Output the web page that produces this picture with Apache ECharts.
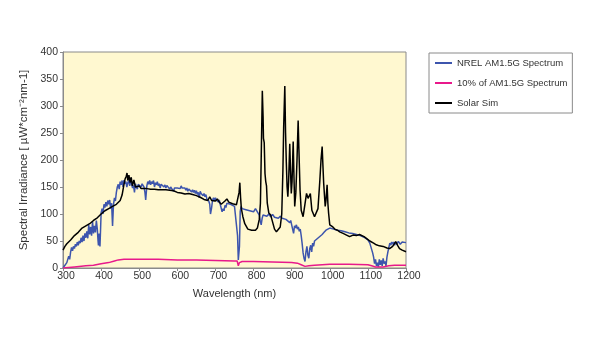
<!DOCTYPE html>
<html>
<head>
<meta charset="utf-8">
<script src="https://cdn.jsdelivr.net/npm/echarts@6/dist/echarts.min.js"></script>
<style>
html,body{margin:0;padding:0;background:#fff;}
#c{width:600px;height:345px;}
</style>
</head>
<body>
<div id="c"></div>
<script>
// NREL AM1.5G spectrum (µW·cm⁻²·nm⁻¹)
const amWl = [300,305,310,315,317.5,320,322.5,325,327.5,330,332.5,335,337.5,340,342.5,345,347.5,350,352.5,355,357.5,360,362.5,365,367.5,370,372.5,375,377.5,380,382.5,385,387.5,390,392,393,395,397,398.5,400,402.5,405,407.5,410,412.5,415,417.5,420,422.5,425,427.5,430,432.5,435,437.5,440,442.5,445,447.5,450,452.5,455,457.5,460,462.5,465,467.5,470,472.5,475,477.5,480,482.5,485,487.5,490,492.5,495,497.5,500,502.5,505,507.5,510,512.5,515,517,520,522.5,525,527.5,530,532.5,535,537.5,540,542.5,545,547.5,550,552.5,555,557.5,560,562.5,565,567.5,570,572.5,575,577.5,580,582.5,585,587.5,590,592.5,595,597.5,600,602.5,605,607.5,610,612.5,615,617.5,620,622.5,625,627.5,630,632.5,635,637.5,640,642.5,645,647.5,650,652.5,655,657.5,660,662.5,665,667.5,670,672.5,675,677.5,680,682.5,685,687,690,692.5,695,697.5,700,702.5,705,707.5,710,712.5,715,717.5,720,722.5,725,727.5,730,735,740,745,750,755,758,760,763,765,767.5,770,775,780,785,790,795,800,805,810,815,817.5,820,822.5,825,830,835,840,845,850,855,860,865,870,875,880,885,890,895,897.5,900,902.5,905,907.5,910,912.5,915,917.5,920,922.5,925,927.5,930,932.5,935,937.5,940,942.5,945,947.5,950,952.5,955,957.5,960,965,970,975,980,985,990,995,1000,1005,1010,1015,1020,1025,1030,1035,1040,1045,1050,1055,1060,1065,1070,1075,1080,1085,1090,1095,1100,1105,1107.5,1110,1112.5,1115,1117.5,1120,1122.5,1125,1127.5,1130,1132.5,1135,1137.5,1140,1142.5,1145,1147.5,1150,1152.5,1155,1157.5,1160,1162.5,1165,1167.5,1170,1172.5,1175,1180,1185,1190,1195,1200];
const amVal = [0,3,10,22,16,30,38,32,40,36,44,40,48,42,50,46,56,48,60,50,64,56,68,55,80,62,76,60,86,64,78,66,88,72,50,42,64,40,70,102,110,100,118,112,122,114,125,118,126,110,120,78,118,130,124,140,150,155,146,160,154,162,150,163,156,160,150,158,162,152,160,156,148,153,140,156,150,146,155,152,158,150,156,158,150,140,126,152,160,155,162,154,160,156,162,150,158,154,160,152,156,148,155,152,157,150,154,148,153,150,155,146,150,148,152,142,148,146,150,148,146,150,147,152,148,150,146,148,144,148,142,146,143,147,141,145,140,144,138,143,136,140,130,142,138,140,134,138,132,136,128,130,124,118,100,112,126,130,124,130,126,128,122,126,118,116,104,110,106,116,112,120,118,118,120,114,116,60,15,40,105,114,110,113,108,111,106,109,104,110,104,98,88,80,92,98,100,96,100,95,99,94,97,92,96,92,95,90,92,84,88,80,72,64,78,74,80,72,76,68,72,60,45,28,18,12,30,40,24,18,36,42,30,46,40,50,52,56,58,62,66,70,72,74,73,72,71,70,70,69,68,67,66,65,64,64,63,62,61,60,59,57,55,52,46,40,42,28,20,8,16,4,10,2,16,6,14,4,18,8,12,4,20,30,38,46,42,48,44,48,42,48,44,49,44,48,45,47];

// 10% of AM1.5G
const pctWl = [300,330,360,380,400,420,435,445,460,500,550,600,650,700,750,757,760,763,770,800,850,900,915,925,935,945,960,980,1000,1050,1100,1110,1120,1140,1155,1170,1200];
const pctVal = [0,2,4,5,8,10,13,15,16,16,16,15,15,14,13,13,4,10,12,12,11,10,9,6,3,4,5,6,7,7,6,4,2,2,4,5,5];

// Solar simulator
const simWl = [300,305,310,320,330,340,350,360,370,380,390,400,410,420,430,440,450,455,460,463,466,468,470,473,476,479,482,486,490,495,500,505,510,520,530,540,550,560,570,580,590,600,610,620,630,640,650,660,670,675,680,685,690,695,700,705,710,715,720,725,730,735,740,745,750,755,760,762,764,766,768,772,777,785,795,805,810,815,818,820,823,825,826,828,830,832,834,836,840,845,850,855,860,865,870,874,877,879,882,884,886,888,890,892,895,897,899,901,904,906,908,911,914,917,919,922,925,930,934,939,943,949,953,960,969,974,977,980,982,984,988,990,993,995,997,1000,1004,1008,1013,1020,1026,1035,1044,1052,1061,1070,1078,1083,1090,1096,1105,1115,1122,1130,1140,1150,1157,1165,1173,1178,1183,1190,1200];
const simVal = [33,40,45,52,60,66,74,78,82,88,93,100,106,110,114,118,125,135,155,165,170,176,162,172,158,168,152,163,150,148,152,147,148,147,146,146,145,145,145,144,143,140,139,137,138,136,134,131,127,124,125,132,125,122,124,128,122,118,120,124,128,122,120,119,118,117,118,140,158,130,110,95,82,72,70,70,74,90,120,200,328,280,240,232,175,160,152,120,102,98,85,72,67,68,76,100,180,260,337,250,195,150,132,160,230,180,138,160,234,170,114,140,200,273,220,144,107,95,114,138,129,138,107,95,110,163,200,225,190,157,114,125,154,120,101,80,83,76,72,70,67,64,61,58,61,60,62,64,58,55,50,46,43,41,40,37,36,40,49,42,36,33,30];

const seriesNames = ['NREL AM1.5G Spectrum', '10% of AM1.5G Spectrum', 'Solar Sim'];
const xTicks = {min: 300, max: 1200, step: 100};
const yTicks = {min: 0, max: 400, step: 50};

const pair = (w, v) => w.map((x, i) => [x, v[i]]);
const font = '"Liberation Sans", Arial, Helvetica, sans-serif';

const chart = echarts.init(document.getElementById('c'), null, {renderer: 'canvas'});
chart.setOption({
  animation: false,
  backgroundColor: '#ffffff',
  textStyle: {fontFamily: font},
  grid: {
    left: 63, right: 194, top: 52, bottom: 77,
    show: true, backgroundColor: '#fff8d0', borderColor: '#8a8a8a', borderWidth: 1
  },
  legend: {
    orient: 'vertical',
    left: 429, top: 53,
    padding: [5, 5, 5, 6],
    itemGap: 10,
    icon: 'rect',
    itemWidth: 17, itemHeight: 2,
    borderColor: '#8a8a8a', borderWidth: 1,
    backgroundColor: '#ffffff',
    textStyle: {fontSize: 9.5, color: '#333', fontFamily: font, lineHeight: 10},
    data: seriesNames
  },
  xAxis: {
    type: 'value',
    min: xTicks.min, max: xTicks.max, interval: xTicks.step,
    name: 'Wavelength (nm)', nameLocation: 'middle', nameGap: 20,
    nameTextStyle: {fontSize: 11, color: '#333', fontFamily: font},
    axisLine: {lineStyle: {color: '#8a8a8a', width: 1}},
    axisTick: {show: true, length: 3, lineStyle: {color: '#8a8a8a'}},
    axisLabel: {fontSize: 10.5, color: '#333', margin: 3, fontFamily: font, formatter: v => String(v), padding: [0, 0, 0, 6]},
    splitLine: {show: false}
  },
  yAxis: {
    type: 'value',
    min: yTicks.min, max: yTicks.max, interval: yTicks.step,
    name: 'Spectral Irradiance [ µW*cm⁻²nm-1]', nameLocation: 'middle', nameGap: 23, nameRotate: 90,
    nameTextStyle: {fontSize: 11.5, color: '#333', fontFamily: font},
    axisLine: {show: true, lineStyle: {color: '#8a8a8a', width: 1}},
    axisTick: {show: true, length: 3, lineStyle: {color: '#8a8a8a'}},
    axisLabel: {fontSize: 10.5, color: '#333', margin: 5, fontFamily: font, formatter: v => String(v)},
    splitLine: {show: false}
  },
  series: [
    {name: seriesNames[0], type: 'line', data: pair(amWl, amVal), symbol: 'none', showSymbol: false,
     lineStyle: {color: '#3d55ad', width: 1.5}, itemStyle: {color: '#3d55ad'}, z: 2},
    {name: seriesNames[1], type: 'line', data: pair(pctWl, pctVal), symbol: 'none', showSymbol: false,
     lineStyle: {color: '#e8198b', width: 1.5}, itemStyle: {color: '#e8198b'}, z: 3},
    {name: seriesNames[2], type: 'line', data: pair(simWl, simVal), symbol: 'none', showSymbol: false,
     lineStyle: {color: '#000000', width: 1.5}, itemStyle: {color: '#000000'}, z: 4}
  ]
});
</script>
</body>
</html>
